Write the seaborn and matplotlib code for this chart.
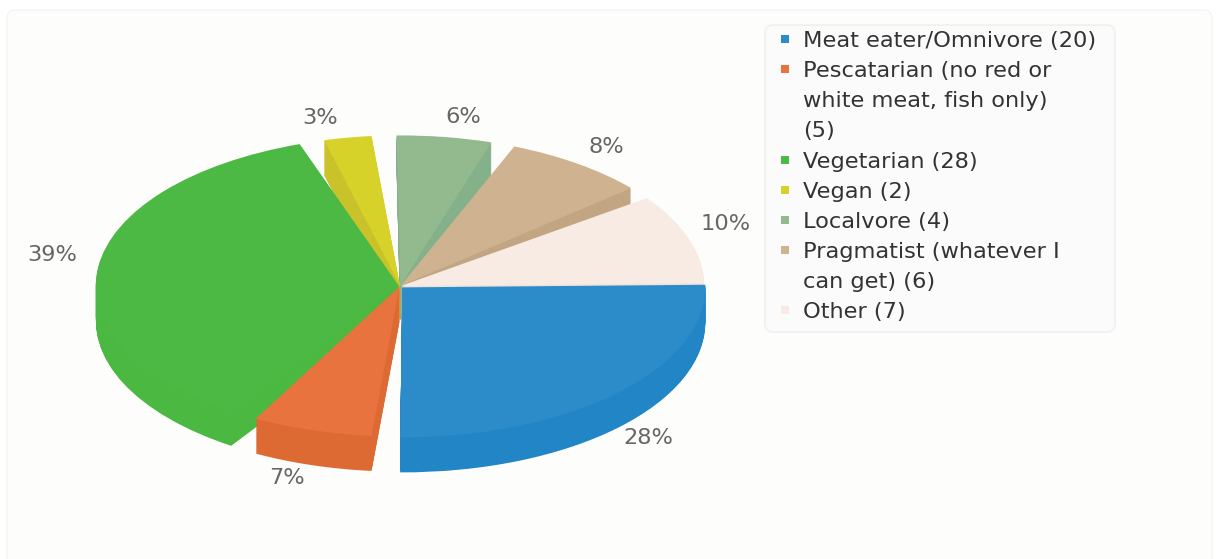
# plot.py - 3D-looking pie of diet answers, drawn with squashed pie layers
import matplotlib
matplotlib.use("Agg")
import matplotlib.pyplot as plt
from matplotlib.lines import Line2D
from matplotlib.patches import FancyBboxPatch
from matplotlib.transforms import IdentityTransform
import seaborn as sns

# --- data ---
categories = ["Meat eater/Omnivore", "Pescatarian (no red or\nwhite meat, fish only)\n",
              "Vegetarian", "Vegan", "Localvore",
              "Pragmatist (whatever I\ncan get)", "Other"]
counts = [20, 5, 28, 2, 4, 6, 7]
pct_labels = ["28%", "7%", "39%", "3%", "6%", "8%", "10%"]

# --- style ---
top_colors = ["#2b8cc9", "#e8733f", "#4cb944", "#d6d229", "#93b98f", "#cfb28f", "#f8ebe4"]
side_colors = ["#2285c6", "#dd6933", "#4ab841", "#c9c22b", "#84b08a", "#c2a582", "#f1e2da"]
# slices are pulled apart by angle, (start, end) shift in degrees clockwise
trims = [(-1, -9.6), (-4.7, -6.7), (-1.4, -14.1), (-9.5, -10.4),
         (-5.7, -7.5), (-3, -5.5), (-0.8, -1)]
explode = [0.012, 0.004, 0.004, 0.004, 0.004, 0.004, 0.004]
label_px = [(648, 438), (287, 478), (52, 255), (320, 118), (463, 117), (606, 147), (726, 224)]

W, H = 1217, 559
CX, CY = 400, 286    # pie centre in pixels
RX, RY = 303, 150    # radii of the squashed pie
DEPTH = 35
FONT = 16.2

sns.set_theme(style="white")
plt.rcParams["font.family"] = ["DejaVu Sans"]

fig = plt.figure(figsize=(W / 100, H / 100), dpi=100, facecolor="white")
ax = fig.add_axes([0, 0, 1, 1])


def draw_layer(offset_px, colors):
    wedges, _ = ax.pie(counts, colors=colors, startangle=0, counterclock=False,
                       center=(0, -offset_px / RY), radius=1, explode=explode,
                       wedgeprops={"linewidth": 0})
    for wedge, (t_start, t_end) in zip(wedges, trims):
        start, end = -wedge.theta2, -wedge.theta1
        wedge.set_theta2(-(start + t_start))
        wedge.set_theta1(-(end + t_end))
    return wedges


def px_box(x0, y0, x1, y1, **kw):
    # rounded box given in pixels from the top left
    box = FancyBboxPatch((x0, H - y1), x1 - x0, y1 - y0,
                         boxstyle="round,pad=0,rounding_size=8",
                         transform=IdentityTransform(), **kw)
    fig.add_artist(box)
    return box


# panel behind the chart and the legend box
px_box(7, 10, 1212, 575, facecolor="#fdfdfb", edgecolor="#f4f4f2", linewidth=1, zorder=-5)
ax.patch.set_alpha(0)

for d in range(DEPTH, 0, -1):
    draw_layer(d, side_colors)
draw_layer(0, top_colors)

# pie() forces equal aspect, the squash comes from these limits
ax.set_aspect("auto")
ax.set_xlim(-CX / RX, (W - CX) / RX)
ax.set_ylim(-(H - CY) / RY, CY / RY)
ax.axis("off")

for txt, (px, py) in zip(pct_labels, label_px):
    fig.text(px / W, 1 - py / H, txt, ha="center", va="center",
             fontsize=FONT, color="#666666")

px_box(765, 25, 1115, 332, facecolor="#fbfbfb", edgecolor="#f0f0f0", linewidth=1.2, zorder=-1)

# legend, one row per printed line so the square stays on the first line
handles, rows = [], []
for name, n, col in zip(categories, counts, top_colors):
    lines = f"{name} ({n})".split("\n")
    for i, line in enumerate(lines):
        if i == 0:
            handles.append(Line2D([], [], linestyle="none", marker="s", markersize=6,
                                  color=col, markeredgewidth=0))
        else:
            handles.append(Line2D([], [], linestyle="none"))
        rows.append(line.strip())

leg = ax.legend(handles, rows, loc="upper left",
                bbox_to_anchor=(774 / W, 1 - 31 / H), bbox_transform=fig.transFigure,
                fontsize=FONT, labelcolor="#333333", frameon=False,
                labelspacing=0.45, handlelength=1.0, handletextpad=0.29,
                borderpad=0, borderaxespad=0)

fig.savefig("out.png", dpi=100)
